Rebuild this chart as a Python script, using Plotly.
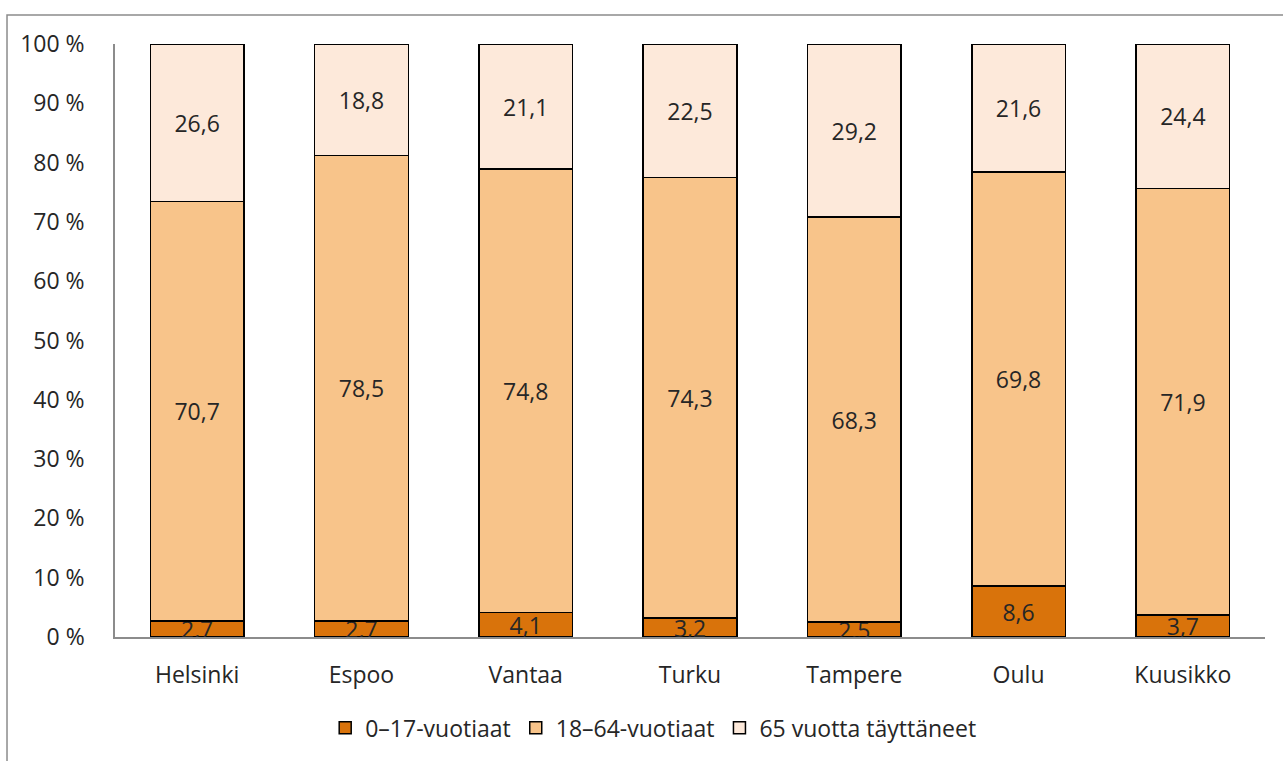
import plotly.graph_objects as go

cities = ["Helsinki", "Espoo", "Vantaa", "Turku", "Tampere", "Oulu", "Kuusikko"]
age_0_17 = [2.7, 2.7, 4.1, 3.2, 2.5, 8.6, 3.7]
age_18_64 = [70.7, 78.5, 74.8, 74.3, 68.3, 69.8, 71.9]
age_65 = [26.6, 18.8, 21.1, 22.5, 29.2, 21.6, 24.4]

y_ticks = [0, 10, 20, 30, 40, 50, 60, 70, 80, 90, 100]
y_tick_labels = [f"{t} %" for t in y_ticks]

series = [
    ("0\u201317-vuotiaat", age_0_17, "#D9730B"),
    ("18\u201364-vuotiaat", age_18_64, "#F8C48A"),
    ("65 vuotta täyttäneet", age_65, "#FDE9DA"),
]

font_family = "Open Sans, sans-serif"
text_color = "#262626"

fig = go.Figure()
for name, values, color in series:
    fig.add_trace(
        go.Bar(
            x=cities,
            y=values,
            name=name,
            marker=dict(color=color, line=dict(color="black", width=1.5)),
            text=[f"{v:.1f}".replace(".", ",") for v in values],
            textposition="inside",
            insidetextanchor="middle",
            constraintext="none",
            textfont=dict(size=23, color=text_color, family=font_family),
            hoverinfo="skip",
        )
    )

fig.update_layout(
    barmode="stack",
    bargap=0.43,
    width=1283,
    height=761,
    margin=dict(l=115, r=18, t=44, b=119),
    plot_bgcolor="white",
    paper_bgcolor="white",
    font=dict(family=font_family, size=23, color=text_color),
    showlegend=True,
    legend=dict(
        orientation="h",
        x=0.468,
        xanchor="center",
        y=-0.153,
        yanchor="middle",
        font=dict(size=23),
        itemwidth=30,
        traceorder="normal",
    ),
    xaxis=dict(
        showline=True,
        linecolor="#8C8C8C",
        linewidth=1.5,
        ticks="",
        ticklabelstandoff=17,
        showgrid=False,
    ),
    yaxis=dict(
        range=[0, 100],
        tickmode="array",
        tickvals=y_ticks,
        ticktext=y_tick_labels,
        showline=True,
        linecolor="#8C8C8C",
        linewidth=1.5,
        ticks="",
        ticklabelstandoff=24,
        showgrid=False,
        zeroline=False,
    ),
    shapes=[
        dict(
            type="rect",
            xref="paper",
            yref="paper",
            x0=-0.0939,
            x1=1.2,
            y0=-0.4,
            y1=1.0487,
            line=dict(color="#8C8C8C", width=1.5),
            fillcolor="rgba(0,0,0,0)",
            layer="below",
        )
    ],
)

# the page body has an 8px default margin; drop it so the figure sits at 0,0
fig.write_html(
    "out.html",
    config={"displayModeBar": False},
    post_script="document.body.style.margin = '0';",
)
